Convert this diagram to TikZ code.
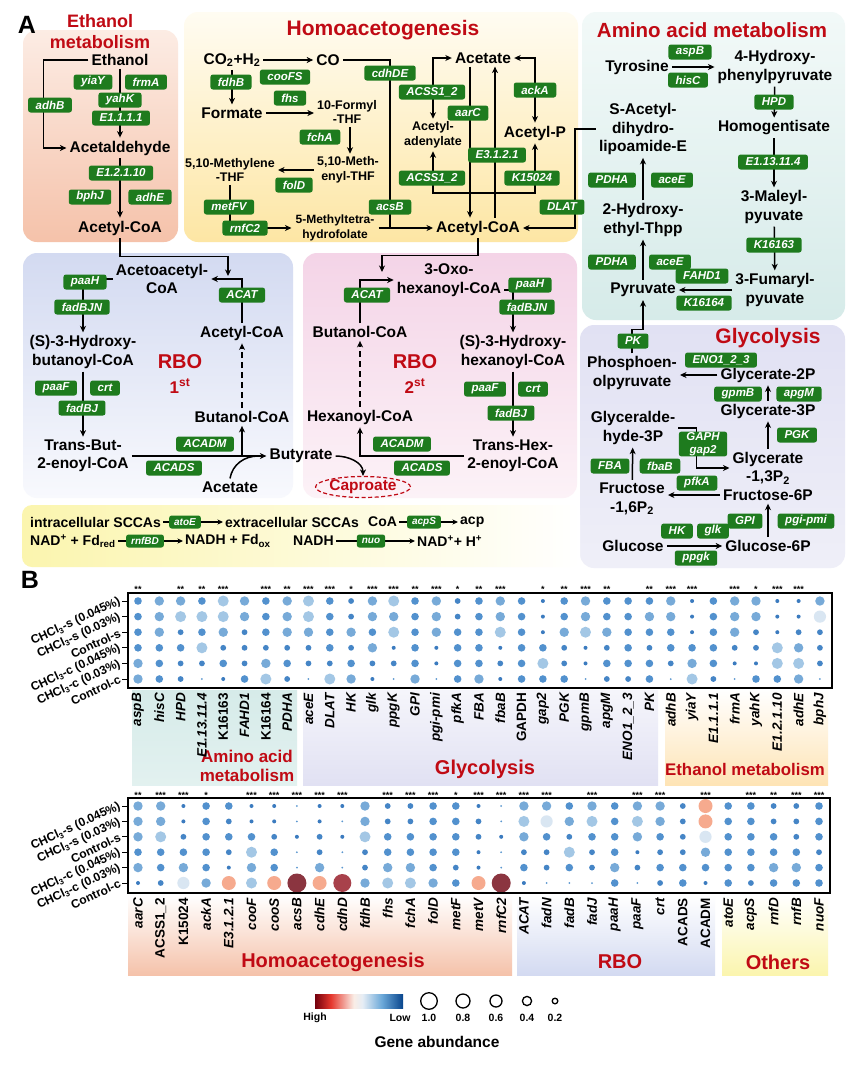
\documentclass[tikz,border=0pt]{standalone}
\usepackage{fontspec}
\setmainfont{Liberation Sans}
\usetikzlibrary{arrows.meta,calc,shapes.geometric}
\definecolor{ggreen}{HTML}{1E7B1E}
\definecolor{tred}{HTML}{C00A14}
\definecolor{ethT}{HTML}{FCECE4}\definecolor{ethB}{HTML}{F5C2AA}
\definecolor{homT}{HTML}{FFFCF2}\definecolor{homB}{HTML}{FDE6A4}
\definecolor{amiT}{HTML}{F2F9F8}\definecolor{amiB}{HTML}{D6EBE9}
\definecolor{rb1T}{HTML}{D3DAF1}\definecolor{rb1B}{HTML}{F8F9FD}
\definecolor{rb2T}{HTML}{F4D4E7}\definecolor{rb2B}{HTML}{FCF2F7}
\definecolor{glyT}{HTML}{E1E1F3}\definecolor{glyB}{HTML}{EFEFF8}
\definecolor{stY}{HTML}{FBF5AE}
\definecolor{lv0}{HTML}{5C98D0}
\definecolor{lv1}{HTML}{3B7BBF}
\definecolor{lv2}{HTML}{4585C6}
\definecolor{lv3}{HTML}{5291CE}
\definecolor{lv4}{HTML}{77AAD8}
\definecolor{lv5}{HTML}{A3C7E5}
\definecolor{lv6}{HTML}{D9E6F2}
\definecolor{lv7}{HTML}{F6AA8E}
\definecolor{lv8}{HTML}{A8414B}
\definecolor{lv9}{HTML}{8B3540}
\pgfdeclarehorizontalshading{cbar}{100bp}{rgb(0bp)=(0.45,0,0.05); rgb(25bp)=(0.45,0,0.05); rgb(34bp)=(0.9,0.22,0.18); rgb(47bp)=(0.98,0.93,0.9); rgb(52bp)=(0.9,0.93,0.96); rgb(63bp)=(0.42,0.66,0.85); rgb(75bp)=(0.03,0.27,0.55); rgb(100bp)=(0.03,0.27,0.55)}
\tikzset{
 met/.style={font=\fontsize{15.5}{18.5}\selectfont\bfseries, align=center, inner sep=3pt},
 mets/.style={font=\fontsize{12.5}{14.5}\selectfont\bfseries, align=center, inner sep=3pt},
 gene/.style={fill=ggreen, text=white, rounded corners=2.5pt, font=\fontsize{11.5}{12}\selectfont\bfseries\itshape, inner xsep=7.5pt, inner ysep=1pt, minimum height=15pt},
 genesm/.style={gene, font=\fontsize{10}{10}\selectfont\bfseries\itshape, minimum height=13pt, inner xsep=5pt},
 ttl/.style={text=tred, font=\fontsize{21}{22}\selectfont\bfseries, inner sep=0pt, align=center},
 ln/.style={line width=1.5pt},
 arr/.style={ln, -{Stealth[length=6.5pt,width=6pt,inset=2pt]}},
 arrb/.style={ln, {Stealth[length=6.5pt,width=6pt,inset=2pt]}-{Stealth[length=6.5pt,width=6pt,inset=2pt]}},
 arrs/.style={line width=1.2pt, -{Stealth[length=5.5pt,width=5pt,inset=1.5pt]}},
 dsh/.style={dash pattern=on 6pt off 4pt},
 stripT/.style={font=\fontsize{14}{14}\selectfont\bfseries, inner sep=2pt, anchor=west},
 stars/.style={font=\fontsize{9}{9}\selectfont\bfseries, inner sep=0pt},
 xlab/.style={rotate=90, anchor=east, font=\fontsize{13.5}{14}\selectfont\bfseries\itshape, inner sep=0pt},
 ylab/.style={rotate=25, anchor=east, font=\fontsize{12}{12}\selectfont\bfseries, inner sep=0pt},
 grp/.style={text=tred, font=\fontsize{20}{22}\selectfont\bfseries, align=center, inner sep=0pt},
 leg/.style={font=\fontsize{10.5}{11}\selectfont\bfseries, inner sep=0pt},
}
\begin{document}
\begin{tikzpicture}[x=1pt,y=-1pt]
\useasboundingbox (0,0) rectangle (847,1066);
\fill[white] (0,0) rectangle (847,1066);
% ---------- panel A backgrounds
\shade[top color=ethT, bottom color=ethB, rounded corners=14pt] (23,30) rectangle (178,242);
\shade[top color=homT, bottom color=homB, rounded corners=14pt] (184,12) rectangle (578,242);
\shade[top color=amiT, bottom color=amiB, rounded corners=14pt] (582,12) rectangle (845,320);
\shade[top color=rb1T, bottom color=rb1B, rounded corners=14pt] (23,253) rectangle (293,498);
\shade[top color=rb2T, bottom color=rb2B, rounded corners=14pt] (303,253) rectangle (577,498);
\shade[top color=glyT, bottom color=glyB, rounded corners=14pt] (580,325) rectangle (845,568);
\shade[left color=stY, right color=white, rounded corners=10pt] (22,505) rectangle (580,567);

\node[font=\fontsize{25}{25}\selectfont\bfseries] (lA) at (27,25) {A};
\node[font=\fontsize{25}{25}\selectfont\bfseries] (lB) at (30,580) {B};

% ---------- metabolites
\node[met] (ethanol) at (120,60) {Ethanol};
\node[met] (acald) at (120,148) {Acetaldehyde};
\node[met] (accoaE) at (120,228) {Acetyl-CoA};
\node[met] (co2) at (232,60) {CO\textsubscript{2}+H\textsubscript{2}};
\node[met] (co) at (328,60) {CO};
\node[met] (formate) at (232,113) {Formate};
\node[mets] (formyl) at (347,112) {10-Formyl\\-THF};
\node[mets] (methenyl) at (348,170) {5,10-Meth-\\enyl-THF};
\node[mets] (methylene) at (230,170) {5,10-Methylene\\-THF};
\node[mets, font=\fontsize{12}{14.5}\selectfont\bfseries, inner sep=4pt] (mthf) at (335,228) {5-Methyltetra-\\hydrofolate};
\node[met] (acetate) at (483,58) {Acetate};
\node[met] (accoaH) at (478,228) {Acetyl-CoA};
\node[mets] (adenyl) at (433,135) {Acetyl-\\adenylate};
\node[met] (acetylp) at (535,133) {Acetyl-P};
\node[met] (tyr) at (637,67) {Tyrosine};
\node[met] (hpp) at (775,67) {4-Hydroxy-\\phenylpyruvate};
\node[met] (homog) at (774,128) {Homogentisate};
\node[met] (maleyl) at (774,207) {3-Maleyl-\\pyuvate};
\node[met] (fumaryl) at (775,290) {3-Fumaryl-\\pyuvate};
\node[met] (pyr) at (643,290) {Pyruvate};
\node[met] (hethyl) at (643,220) {2-Hydroxy-\\ethyl-Thpp};
\node[met] (sacetyl) at (643,129) {S-Acetyl-\\dihydro-\\lipoamide-E};
\node[met] (pep) at (632,373) {Phosphoen-\\olpyruvate};
\node[met] (g2p) at (768,375) {Glycerate-2P};
\node[met] (g3p) at (768,411) {Glycerate-3P};
\node[met] (g13) at (768,468) {Glycerate\\-1,3P\textsubscript{2}};
\node[met] (gap) at (633,428) {Glyceralde-\\hyde-3P};
\node[met] (f16) at (632,499) {Fructose\\-1,6P\textsubscript{2}};
\node[met] (f6p) at (768,495) {Fructose-6P};
\node[met] (glc) at (633,546) {Glucose};
\node[met] (g6p) at (768,546) {Glucose-6P};
\node[met] (acac) at (162,279) {Acetoacetyl-\\CoA};
\node[met] (hbut) at (83,352) {(S)-3-Hydroxy-\\butanoyl-CoA};
\node[met] (tbut) at (83,456) {Trans-But-\\2-enoyl-CoA};
\node[met] (accoaR) at (242,333) {Acetyl-CoA};
\node[met] (butcoa) at (242,417) {Butanol-CoA};
\node[met] (acetate2) at (230,487) {Acetate};
\node[met] (butyrate) at (301,456) {Butyrate};
\node[met] (oxo) at (449,280) {3-Oxo-\\hexanoyl-CoA};
\node[met] (hhex) at (513,352) {(S)-3-Hydroxy-\\hexanoyl-CoA};
\node[met] (thex) at (513,456) {Trans-Hex-\\2-enoyl-CoA};
\node[met] (butcoa2) at (360,332) {Butanol-CoA};
\node[met] (hexcoa) at (360,417) {Hexanoyl-CoA};
\node[ellipse, draw=tred, dash pattern=on 4pt off 2.5pt, line width=1.2pt, text=tred, font=\fontsize{15.5}{16}\selectfont\bfseries, inner sep=0pt, minimum width=88pt, minimum height=21pt] (caproate) at (363,487) {Caproate};
\node[stripT] (intra) at (28,522) {intracellular SCCAs};
\node[stripT] (extra) at (223,522) {extracellular SCCAs};
\node[stripT] (coaS) at (366,522) {CoA};
\node[stripT] (acpN) at (458,522) {acp};
\node[stripT] (nadA) at (28,541) {NAD\textsuperscript{+} + Fd\textsubscript{red}};
\node[stripT] (nadhA) at (183,541) {NADH + Fd\textsubscript{ox}};
\node[stripT] (nadhB) at (291,541) {NADH};
\node[stripT] (nadB) at (415,541) {NAD\textsuperscript{+}+ H\textsuperscript{+}};

% ---------- connectors
\coordinate (jA) at (390,228);
\coordinate (jB) at (535,193);
\coordinate (jD) at (228,276);
\coordinate (jF) at (382,272);
\draw[arr] (ethanol) -- (acald);
\draw[arr] (ethanol.west) -- ++(-45,0) |- (acald.west);
\draw[arr] (acald) -- (accoaE);
\draw[arr] (accoaE.south) -- ++(0,18) -| (jD);
\draw[arr] (co2) -- (co);
\draw[arr] (co2) -- (formate);
\draw[arr] (formate.east) -- (formyl.west |- formate.east);
\draw[arr] ($(formyl.south)+(3,0)$) -- ($(methenyl.north)+(2,0)$);
\draw[arr] (methenyl.west) -- (methylene.east |- methenyl.west);
\draw[arr] (methylene.south) |- (mthf.west);
\draw[ln] (co.east) -| (jA);
\draw[arr] (mthf.east) -- (accoaH.west);
\draw[arr] ($(acetate.south)+(-13,0)$) -- ($(accoaH.north)+(-8,0)$);
\draw[arr] ($(accoaH.north)+(17,0)$) -- ($(acetate.south)+(12,0)$);
\draw[arrb] (acetate.west) -| (adenyl.north);
\draw[arrb] (acetate.east) -| (acetylp.north);
\draw[arrb] (adenyl.south) |- (jB) -- (acetylp.south);
\draw[arr] (sacetyl.west) -- ++(-21,0) |- (accoaH.east);
\draw[arr] (accoaH.south) -- ++(0,17) -| (jF);
\draw[arr] (tyr.east) -- (hpp.west |- tyr.east);
\draw[arr] (hpp) -- (homog);
\draw[arr] (homog) -- (maleyl);
\draw[arr] (maleyl) -- (fumaryl);
\draw[arr] (fumaryl.west) -- (pyr.east);
\draw[arr] (pyr) -- (hethyl);
\draw[arr] (hethyl) -- (sacetyl);
\draw[arr] (pep.north) -- ++(0,-24) -| (pyr.south);
\draw[arr] (g2p.west) -- (pep.east |- g2p.west);
\draw[arr] (g3p) -- (g2p);
\draw[arr] (g13) -- (g3p);
\draw[arr] (gap.east) -- ++(18,0) |- (g13.west);
\draw[arr] (f16) -- (gap);
\draw[arr] (f6p.west) -- (f16.east |- f6p.west);
\draw[arr] (g6p) -- (f6p);
\draw[arr] (glc) -- (g6p);
\draw[arr] (accoaR.north) |- (acac.east);
\draw[arr] (acac.west) -| (hbut.north);
\draw[arr] (hbut) -- (tbut);
\draw[arr] (tbut.east) -- (butyrate.west);
\draw[arr] (tbut.east -| butcoa.south) -- (butcoa.south);
\draw[arr, dsh] (butcoa) -- (accoaR);
\draw[ln] (acetate2.north) to[out=80,in=180] ($(butyrate.west)+(-8,0)$);
\draw[arr] (butcoa2.north) |- (oxo.west);
\draw[arr] ($(oxo.east)+(0,10)$) -| (hhex.north);
\draw[arr] (hhex) -- (thex);
\draw[arr] (thex.west) -| (hexcoa.south);
\draw[arr, dsh] (hexcoa) -- (butcoa2);
\draw[arr] (butyrate.east) to[out=0,in=90] (caproate.north);
\draw[arrs] (intra.east) -- (extra.west);
\draw[arrs] (coaS.east) -- (acpN.west);
\draw[arrs] (nadA.east) -- (nadhA.west);
\draw[arrs] (nadhB.east) -- (nadB.west);

% ---------- genes
\node[gene] (gyiaY) at (93,82) {yiaY};
\node[gene] (gfrmA) at (146,82) {frmA};
\node[gene] (gyahK) at (120,100) {yahK};
\node[gene] (gE1111) at (121,118) {E1.1.1.1};
\node[gene] (gadhB) at (50,105) {adhB};
\node[gene] (gE12110) at (121,173) {E1.2.1.10};
\node[gene] (gbphJ) at (90,197) {bphJ};
\node[gene] (gadhE) at (150,197) {adhE};
\node[gene] (gfdhB) at (231,82) {fdhB};
\node[gene] (gcooFS) at (285,77) {cooFS};
\node[gene] (gfhs) at (290,98) {fhs};
\node[gene] (gfchA) at (320,137) {fchA};
\node[gene] (gfolD) at (294,185) {folD};
\node[gene] (gmetFV) at (229,207) {metFV};
\node[gene] (grnfC2) at (245,228) {rnfC2};
\node[gene] (gcdhDE) at (390,73) {cdhDE};
\node[gene] (gacsB) at (390,207) {acsB};
\node[gene] (gACSSa) at (432,92) {ACSS1\_2};
\node[gene] (gaarC) at (468,113) {aarC};
\node[gene] (gE3121) at (497,155) {E3.1.2.1};
\node[gene] (gACSSb) at (432,178) {ACSS1\_2};
\node[gene] (gK15024) at (532,178) {K15024};
\node[gene] (gackA) at (535,90) {ackA};
\node[gene] (gDLAT) at (562,207) {DLAT};
\node[gene] (gaspB) at (690,52) {aspB};
\node[gene] (ghisC) at (688,80) {hisC};
\node[gene] (gHPD) at (774,102) {HPD};
\node[gene] (gE1131114) at (773,162) {E1.13.11.4};
\node[gene] (gK16163) at (774,245) {K16163};
\node[gene] (gPDHAa) at (612,180) {PDHA};
\node[gene] (gaceEa) at (672,180) {aceE};
\node[gene] (gPDHAb) at (612,262) {PDHA};
\node[gene] (gaceEb) at (670,262) {aceE};
\node[gene] (gFAHD1) at (702,276) {FAHD1};
\node[gene] (gK16164) at (704,303) {K16164};
\node[gene] (gPK) at (633,341) {PK};
\node[gene] (gENO) at (721,360) {ENO1\_2\_3};
\node[gene] (ggpmB) at (738,394) {gpmB};
\node[gene] (gapgM) at (799,394) {apgM};
\node[gene] (gPGK) at (797,435) {PGK};
\node[gene, align=center, font=\fontsize{11.5}{12.5}\selectfont\bfseries\itshape] (gGAPH) at (703,444) {GAPH\\gap2};
\node[gene] (gFBA) at (610,466) {FBA};
\node[gene] (gfbaB) at (660,466) {fbaB};
\node[gene] (gpfkA) at (697,483) {pfkA};
\node[gene] (gGPI) at (745,521) {GPI};
\node[gene] (gpgi) at (806,521) {pgi-pmi};
\node[gene] (gHK) at (677,531) {HK};
\node[gene] (gglk) at (713,531) {glk};
\node[gene] (gppgk) at (696,558) {ppgk};
\node[gene] (gpaaHa) at (85,282) {paaH};
\node[gene] (gfadBJNa) at (82,307) {fadBJN};
\node[gene] (gpaaFa) at (56,388) {paaF};
\node[gene] (gcrta) at (105,388) {crt};
\node[gene] (gfadBJa) at (82,408) {fadBJ};
\node[gene] (gACATa) at (242,295) {ACAT};
\node[gene] (gACADMa) at (205,444) {ACADM};
\node[gene] (gACADSa) at (174,468) {ACADS};
\node[gene] (gpaaHb) at (530,285) {paaH};
\node[gene] (gfadBJNb) at (527,307) {fadBJN};
\node[gene] (gACATb) at (367,295) {ACAT};
\node[gene] (gpaaFb) at (485,389) {paaF};
\node[gene] (gcrtb) at (533,389) {crt};
\node[gene] (gfadBJb) at (511,413) {fadBJ};
\node[gene] (gACADMb) at (402,444) {ACADM};
\node[gene] (gACADSb) at (422,468) {ACADS};
\node[genesm] (gatoE) at (185,522) {atoE};
\node[genesm] (gacpS) at (424,522) {acpS};
\node[genesm] (grnfBD) at (145,541) {rnfBD};
\node[genesm] (gnuo) at (371,541) {nuo};

% ---------- titles
\node[ttl, font=\fontsize{18}{21}\selectfont\bfseries] (tEth) at (100,32) {Ethanol\\metabolism};
\node[ttl] (tHomo) at (383,30) {Homoacetogenesis};
\node[ttl, font=\fontsize{20.5}{22}\selectfont\bfseries] (tAmino) at (712,30) {Amino acid metabolism};
\node[ttl] (tGly) at (768,338) {Glycolysis};
\node[ttl, font=\fontsize{20}{22}\selectfont\bfseries] (tRBO1) at (180,362) {RBO};
\node[ttl, font=\fontsize{17}{20}\selectfont\bfseries] (tRBO1n) at (180,386) {1\textsuperscript{st}};
\node[ttl, font=\fontsize{20}{22}\selectfont\bfseries] (tRBO2) at (415,362) {RBO};
\node[ttl, font=\fontsize{17}{20}\selectfont\bfseries] (tRBO2n) at (415,386) {2\textsuperscript{st}};

% ---------- panel B backgrounds
\shade[top color=amiB, bottom color=amiB!70!white] (132,690) rectangle (297,785);
\shade[top color=glyB!60!white, bottom color=glyT] (303,690) rectangle (658,785);
\shade[top color=white, bottom color=homB!80!orange!60!white] (665,690) rectangle (828,785);
\shade[top color=white, bottom color=ethB] (128,895) rectangle (512,975);
\shade[top color=white, bottom color=rb1T] (517,895) rectangle (715,975);
\shade[top color=white, bottom color=stY] (722,895) rectangle (828,975);
\node[grp, font=\fontsize{17}{18.5}\selectfont\bfseries] (bAmino) at (247,766) {Amino acid\\metabolism};
\node[grp] (bGly) at (485,769) {Glycolysis};
\node[grp, font=\fontsize{16.8}{18}\selectfont\bfseries] (bEth) at (745,769) {Ethanol metabolism};
\node[grp] (bHomo) at (333,962) {Homoacetogenesis};
\node[grp] (bRBO) at (620,962) {RBO};
\node[grp] (bOth) at (778,962) {Others};

% ---------- dot plot top
\foreach \nm/\sr/\upf/\vals [count=\i from 0] in {
aspB/2/0/{3,3,3,3,4,4}, hisC/0/0/{4,4,4,3,3,3}, HPD/2/0/{4,5,2,3,2,2},
E1.13.11.4/2/0/{3,5,3,5,2,0}, K16163/3/1/{5,5,4,2,3,1}, FAHD1/0/0/{4,4,2,2,2,3},
K16164/3/1/{3,3,3,2,4,5}, PDHA/2/0/{4,4,4,2,3,2}, aceE/3/0/{5,5,4,2,2,0},
DLAT/3/0/{3,3,3,3,2,5}, HK/1/0/{2,2,4,2,3,4}, glk/3/0/{4,4,3,4,2,1},
ppgK/3/0/{5,4,5,1,2,0}, GPI/2/0/{3,3,3,3,3,4}, pgi-pmi/3/0/{4,4,4,1,1,0},
pfkA/1/0/{2,2,3,3,3,3}, FBA/2/0/{3,3,3,3,3,4}, fbaB/3/0/{4,4,5,1,2,1},
GAPDH/0/1/{3,3,3,3,3,3}, gap2/1/0/{1,1,1,3,5,3}, PGK/2/0/{3,3,4,2,2,3},
gpmB/3/0/{4,4,5,1,1,0}, apgM/2/0/{3,3,4,2,3,2}, ENO1\_2\_3/0/0/{3,3,3,3,3,2},
PK/2/0/{3,4,3,2,3,3}, adhB/3/0/{4,4,3,3,2,0}, yiaY/3/0/{1,1,1,3,4,5},
E1.1.1.1/0/0/{3,3,3,3,3,2}, frmA/3/0/{4,4,4,2,1,0}, yahK/1/0/{4,4,2,2,1,3},
E1.2.1.10/3/0/{1,1,1,5,5,3}, adhE/3/0/{1,1,2,4,5,4}, bphJ/0/0/{4,6,2,2,2,0}}{
 \pgfmathsetmacro\xx{138+\i*21.31}
 \node[stars] (sa\i) at (\xx,589) {\ifcase\sr\or *\or **\or ***\fi};
 \node[xlab] (xa\i) at (\xx,693) {\ifnum\upf=1 \upshape\fi\nm};
 \foreach \v [count=\j from 0] in \vals {
  \pgfmathsetmacro\yy{601+\j*15.6}
  \pgfmathsetmacro\rr{{1.0,2.0,2.9,3.8,4.7,5.5,6.1,7.0,9.0,9.5}[\v]}
  \fill[fill=lv\v] (\xx,\yy) circle[radius=\rr pt];
 }
}
\draw[line width=1.5pt] (128,593) rectangle (832,688);
% ---------- dot plot bottom
\foreach \nm/\sr/\upf/\vals [count=\i from 0] in {
aarC/2/0/{4,4,4,3,4,1}, ACSS1\_2/3/1/{4,4,5,3,3,2}, K15024/3/1/{1,1,2,3,4,6},
ackA/1/0/{3,3,3,3,3,4}, E3.1.2.1/0/0/{3,2,3,2,1,7}, cooF/3/0/{1,1,3,5,4,5},
cooS/3/0/{1,1,2,3,3,7}, acsB/3/0/{0,0,1,0,0,9}, cdhE/3/0/{1,1,2,2,4,7},
cdhD/3/0/{1,0,1,0,0,8}, fdhB/0/0/{4,4,5,2,2,4}, fhs/3/0/{2,2,3,3,4,5},
fchA/3/0/{2,2,3,3,4,5}, folD/3/0/{3,3,3,3,3,4}, metF/1/0/{3,3,3,3,2,3},
metV/3/0/{1,2,2,1,1,7}, rnfC2/3/0/{0,0,1,0,0,9}, ACAT/3/0/{4,5,4,2,3,1},
fadN/3/0/{4,6,3,2,2,0}, fadB/0/0/{3,4,2,5,3,0}, fadJ/3/0/{4,5,3,2,2,0},
paaH/0/0/{3,3,3,3,4,3}, paaF/3/0/{4,5,4,1,2,0}, crt/3/0/{4,4,3,2,3,2},
ACADS/0/1/{2,2,2,2,3,3}, ACADM/3/1/{7,7,6,4,3,1}, atoE/0/0/{3,3,3,3,3,3},
acpS/3/0/{3,3,3,3,3,2}, rnfD/2/0/{2,2,3,3,4,3}, rnfB/3/0/{2,2,2,3,4,3},
nuoF/3/0/{3,3,3,2,3,3}}{
 \pgfmathsetmacro\xx{138+\i*22.7}
 \node[stars] (sb\i) at (\xx,795) {\ifcase\sr\or *\or **\or ***\fi};
 \node[xlab] (xb\i) at (\xx,898) {\ifnum\upf=1 \upshape\fi\nm};
 \foreach \v [count=\j from 0] in \vals {
  \pgfmathsetmacro\yy{806+\j*15.4}
  \pgfmathsetmacro\rr{{1.0,2.0,2.9,3.8,4.7,5.5,6.1,7.0,9.0,9.5}[\v]}
  \fill[fill=lv\v] (\xx,\yy) circle[radius=\rr pt];
 }
}
\draw[line width=1.5pt] (128,798) rectangle (830,893);
% ---------- y labels and ticks
\foreach \lab [count=\j from 0] in {CHCl\textsubscript{3}-s (0.045\%), CHCl\textsubscript{3}-s (0.03\%), Control-s, CHCl\textsubscript{3}-c (0.045\%), CHCl\textsubscript{3}-c (0.03\%), Control-c}{
 \draw[line width=1pt] (122,{601+\j*15.6}) -- (128,{601+\j*15.6});
 \draw[line width=1pt] (122,{806+\j*15.4}) -- (128,{806+\j*15.4});
 \node[ylab] (ya\j) at (120,{601+\j*15.6}) {\lab};
 \node[ylab] (yb\j) at (120,{806+\j*15.4}) {\lab};
}
% ---------- legend
\shade[shading=cbar] (315,994) rectangle (403,1008);
\node[leg] (lHigh) at (315,1018) {High};
\node[leg] (lLow) at (400,1018) {Low};
\foreach \cx/\cr/\cl [count=\k] in {429/8.3/1.0, 463/7/0.8, 496/6/0.6, 527/4.6/0.4, 555/2.8/0.2}{
 \draw[line width=1.3pt] (\cx,1001) circle[radius=\cr pt];
 \node[leg] (lc\k) at (\cx,1018) {\cl};
}
\node[font=\fontsize{15.5}{16}\selectfont\bfseries] (lGene) at (437,1042) {Gene abundance};
\end{tikzpicture}
\end{document}
